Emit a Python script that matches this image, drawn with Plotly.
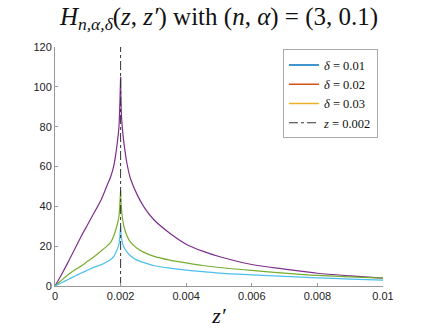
import plotly.graph_objects as go

# ---- data ----
z_prime = [0, 0.0002, 0.0004, 0.0006, 0.0008, 0.001, 0.0012, 0.0014, 0.0016, 0.0017,
           0.0018, 0.0019, 0.00195, 0.002, 0.00202, 0.00205, 0.0021, 0.0022, 0.0023,
           0.0025, 0.0027, 0.003, 0.0035, 0.004, 0.0045, 0.005, 0.006, 0.007, 0.008,
           0.009, 0.01]

h_purple = [0, 5.8, 12, 18.5, 25, 31, 37, 43, 51, 55,
            61, 72, 80, 105, 88, 80, 72, 61, 54,
            46, 40, 33.5, 26.5, 21, 17.5, 14.8, 10.8, 8.5, 6.4,
            5.1, 4.0]

h_green = [0, 2.9, 5.7, 8, 10, 12.5, 14.8, 17.5, 20.3, 22,
           25.5, 31, 35, 48, 40, 35, 30, 25, 22,
           19, 17, 15, 13, 11.6, 10.3, 9.3, 7.8, 6.5, 5.3,
           4.6, 4.0]

h_lightblue = [0, 1.6, 3.3, 4.9, 6.5, 8, 9.5, 10.6, 12.3, 13.3,
               15, 18.5, 21, 30, 25, 22, 19.5, 17, 15.2,
               13, 11.8, 10.3, 9, 8, 7.2, 6.5, 5.6, 4.8, 4.1,
               3.5, 3.0]

z_source = 0.002
z_mark = [0.002, 0.002]
z_mark_y = [0, 120]

legend_labels = ["<i>δ</i> = 0.01", "<i>δ</i> = 0.02", "<i>δ</i> = 0.03"]
legend_colors = ["#0072BD", "#D95319", "#EDB120"]

x_ticks = [0, 0.002, 0.004, 0.006, 0.008, 0.01]
x_tick_text = ["0", "0.002", "0.004", "0.006", "0.008", "0.01"]
y_ticks = [0, 20, 40, 60, 80, 100, 120]

fig = go.Figure()

peak = z_prime.index(z_source)
for yv, col in [(h_purple, "#7E2F8E"), (h_green, "#77AC30"), (h_lightblue, "#4DBEEE")]:
    for xs, ys in [(z_prime[:peak + 1], yv[:peak + 1]), (z_prime[peak:], yv[peak:])]:
        fig.add_trace(go.Scatter(x=xs, y=ys, mode="lines",
                                 line=dict(color=col, width=1.2, shape="spline", smoothing=0.8),
                                 showlegend=False, hoverinfo="skip"))

for lab, col in zip(legend_labels, legend_colors):
    fig.add_trace(go.Scatter(x=[None], y=[None], mode="lines", name=lab,
                             line=dict(color=col, width=1.5)))

fig.add_trace(go.Scatter(x=z_mark, y=z_mark_y, mode="lines", name="<i>z</i> = 0.002",
                         line=dict(color="#333333", width=1, dash="dashdot")))

serif = "Liberation Serif, DejaVu Serif, serif"
sans = "Liberation Sans, Arial, sans-serif"

fig.update_layout(
    width=423, height=336,
    margin=dict(l=55, r=40, t=47, b=40),
    paper_bgcolor="white", plot_bgcolor="white",
    title=dict(text="<i>H</i><sub><i>n,α,δ</i></sub>(<i>z</i>, <i>z′</i>) with (<i>n</i>, <i>α</i>) = (3, 0.1)",
               xref="paper", x=0.5, xanchor="center", y=0.952, yanchor="middle",
               font=dict(family=serif, size=25, color="#111111")),
    legend=dict(x=0.695, xanchor="left", y=0.99, yanchor="top",
                bgcolor="white", bordercolor="#aaaaaa", borderwidth=1,
                font=dict(family=serif, size=12.5, color="#111111"),
                tracegroupgap=0, itemwidth=30),
    showlegend=True,
)

fig.update_xaxes(range=[0, 0.01], tickvals=x_ticks, ticktext=x_tick_text,
                 showgrid=False, zeroline=False, showline=True, linecolor="#999999", linewidth=1,
                 ticks="inside", ticklen=3, tickcolor="#999999", mirror=False,
                 tickfont=dict(family=sans, size=11, color="#222222"),
                 title=dict(text="<i>z′</i>", font=dict(family=serif, size=22, color="#111111"), standoff=6))
fig.update_yaxes(range=[0, 120], tickvals=y_ticks,
                 showgrid=False, zeroline=False, showline=True, linecolor="#999999", linewidth=1,
                 ticks="inside", ticklen=3, tickcolor="#999999", mirror=False,
                 tickfont=dict(family=sans, size=11, color="#222222"))

fig.write_html("out.html", config={"displayModeBar": False},
               post_script="document.body.style.margin='0';")
